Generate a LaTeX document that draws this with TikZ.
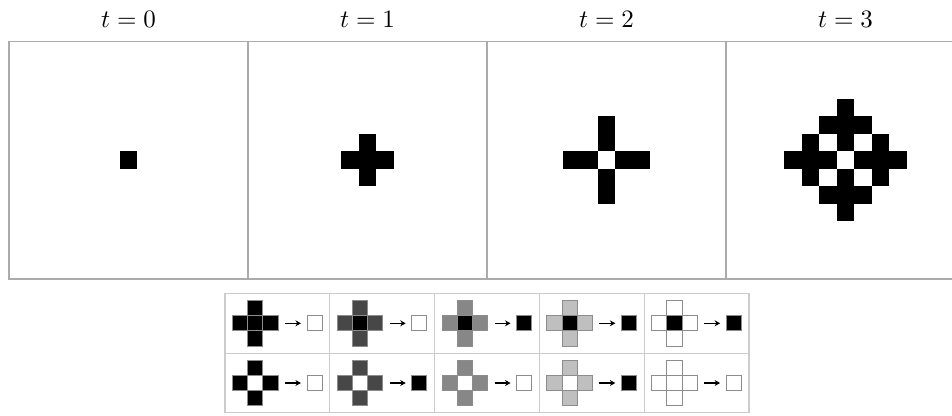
\documentclass[tikz,border=0pt]{standalone}
\usetikzlibrary{positioning,arrows.meta}

\begin{document}
\begin{tikzpicture}[
      x=0.4pt, y=-0.4pt,
      panel/.style={draw=black!33, line width=0.6pt, minimum width=95.4pt,
                    minimum height=95.1pt, inner sep=0pt, outer sep=0pt},
      sq/.style={draw=black!45, line width=0.4pt, minimum size=6.1pt,
                 inner sep=0pt, outer sep=0pt},
      res/.style={draw=black!45, line width=0.4pt, minimum size=6pt,
                  inner sep=0pt, outer sep=0pt},
      grid line/.style={draw=black!20, line width=0.5pt},
      arr/.style={->, line width=0.6pt, shorten <=2.7pt, shorten >=2.5pt},
      >={Stealth[length=2.2pt, width=2.4pt]}]
  \useasboundingbox (0,0) rectangle (952,415);
  \clip (0,0) rectangle (952,415);
  % the four time steps
  \foreach \i in {0,...,3} {
    \node[panel] (p\i) at (128.5+\i*239,160.2) {};
    \node[above=2pt of p\i] (t\i) {$t=\i$};
  }
  \fill (p0.center) +(-8.75,-8.75) rectangle +(8.75,8.75);
  \foreach \a/\b in {0/0,-1/0,1/0,0/-1,0/1}
    \fill ([shift={(\a*17.5,\b*17.5)}]p1.center) +(-8.75,-8.75) rectangle +(8.75,8.75);
  \foreach \a/\b in {-2/0,-1/0,1/0,2/0,0/-2,0/-1,0/1,0/2}
    \fill ([shift={(\a*17.5,\b*17.5)}]p2.center) +(-8.75,-8.75) rectangle +(8.75,8.75);
  \foreach \a/\b in {0/-3,-1/-2,0/-2,1/-2,-2/-1,0/-1,2/-1,-3/0,-2/0,-1/0,
                     1/0,2/0,3/0,-2/1,0/1,2/1,-1/2,0/2,1/2,0/3}
    \fill ([shift={(\a*17.5,\b*17.5)}]p3.center) +(-8.75,-8.75) rectangle +(8.75,8.75);
  % rule table
  \draw[grid line] (225,293.3) rectangle (749,412.7);
  \draw[grid line] (225,353.3) -- (749,353.3);
  \foreach \k in {1,...,4}
    \draw[grid line] (225+\k*104.8,293.3) -- (225+\k*104.8,412.7);
  \foreach \c/\nb/\ra/\rb in {0/black/white/white, 1/black!72/white/black,
        2/black!47/black/white, 3/black!25/black/black, 4/white/black/white} {
    \foreach \r/\ctr/\resc in {0/black/\ra, 1/white/\rb} {
      \node[sq, fill=\ctr] (m\c\r) at (255.3+\c*104.8,323.3+\r*59.7) {};
      \node[sq, fill=\nb, above=0pt of m\c\r] (n\c\r) {};
      \node[sq, fill=\nb, below=0pt of m\c\r] (s\c\r) {};
      \node[sq, fill=\nb, left=0pt of m\c\r] (w\c\r) {};
      \node[sq, fill=\nb, right=0pt of m\c\r] (e\c\r) {};
      \node[res, fill=\resc, right=11.6pt of e\c\r] (o\c\r) {};
      \draw[arr] (e\c\r) -- (o\c\r);
    }
  }
\end{tikzpicture}
\end{document}
